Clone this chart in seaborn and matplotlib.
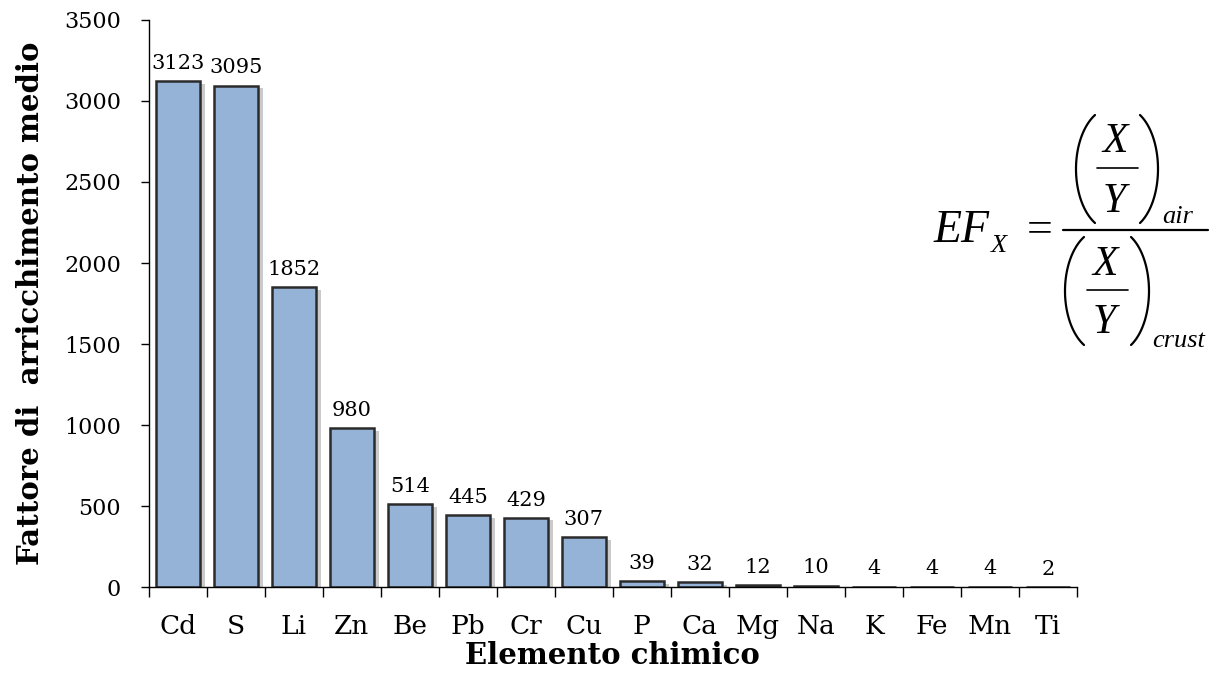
import numpy as np
import pandas as pd
import matplotlib
matplotlib.use('Agg')
import matplotlib.pyplot as plt
import matplotlib.patheffects as pe
import seaborn as sns

# Data
elementi = ['Cd', 'S', 'Li', 'Zn', 'Be', 'Pb', 'Cr', 'Cu', 'P', 'Ca', 'Mg', 'Na', 'K', 'Fe', 'Mn', 'Ti']
fattore = [3123, 3095, 1852, 980, 514, 445, 429, 307, 39, 32, 12, 10, 4, 4, 4, 2]
y_ticks = [0, 500, 1000, 1500, 2000, 2500, 3000, 3500]

df = pd.DataFrame({'elemento': elementi, 'fattore': fattore})

sns.set_theme(style='white')
plt.rcParams['font.family'] = ['DejaVu Serif']
for k in ['text.color', 'axes.labelcolor', 'xtick.color', 'ytick.color']:
    plt.rcParams[k] = 'black'

fig = plt.figure(figsize=(12.1, 6.86), dpi=100)
ax = fig.add_axes([0.123, 0.144, 0.767, 0.827])

sns.barplot(data=df, x='elemento', y='fattore', color='#95B3D7', width=0.76,
            edgecolor='#2b2b2b', linewidth=1.8, saturation=1, ax=ax)

for bar in ax.patches:
    bar.set_path_effects([pe.SimplePatchShadow(offset=(4, -2), alpha=0.28, shadow_rgbFace='#444444'),
                          pe.Normal()])

for i, v in enumerate(fattore):
    ax.text(i, v + 50, str(v), ha='center', va='bottom', fontsize=15, color='black')

ax.set_ylim(0, 3500)
ax.set_yticks(y_ticks)
ax.set_xlim(-0.5, len(elementi) - 0.5)
ax.set_xticks(np.arange(len(elementi)))
ax.set_xticklabels(elementi, fontsize=19)
ax.tick_params(axis='x', length=0, pad=19)
ax.set_xticks(np.arange(len(elementi) + 1) - 0.5, minor=True)
ax.tick_params(axis='x', which='minor', direction='out', length=7, width=1, color='black', bottom=True)
ax.tick_params(axis='y', direction='out', length=6, width=1, color='black', left=True,
               labelsize=16, pad=14)

for s in ['top', 'right']:
    ax.spines[s].set_visible(False)
for s in ['left', 'bottom']:
    ax.spines[s].set_color('black')
    ax.spines[s].set_linewidth(1)

ax.set_xlabel('Elemento chimico', fontsize=21, fontweight='bold', labelpad=2)
ax.set_ylabel('Fattore di  arricchimento medio', fontsize=21, fontweight='bold', labelpad=14)

# EF formula drawn on an overlay in pixel units
ov = fig.add_axes([0, 0, 1, 1], zorder=5)
ov.set_xlim(0, 1210)
ov.set_ylim(686, 0)
ov.axis('off')
ff = 'Liberation Serif'


def paren(x_edge, y_mid, half_h, w, side):
    th = np.radians(62)
    t = np.linspace(-th, th, 60)
    bulge = w * (np.cos(t) - np.cos(th)) / (1 - np.cos(th))
    xs = x_edge - bulge if side == 'left' else x_edge + bulge
    ys = y_mid + half_h * np.sin(t) / np.sin(th)
    ov.plot(xs, ys, color='black', lw=1.6, solid_capstyle='round')


ov.text(934, 242, 'EF', fontsize=33, family=ff, style='italic', ha='left', va='baseline')
ov.text(991, 252, 'X', fontsize=19, family=ff, style='italic', ha='left', va='baseline')
ov.text(1040, 242, '=', fontsize=33, family=ff, ha='center', va='baseline')
ov.plot([1063, 1208], [230, 230], color='black', lw=1.6)

# numerator
paren(1095, 169, 54, 19, 'left')
ov.text(1115, 152, 'X', fontsize=30, family=ff, style='italic', ha='center', va='baseline')
ov.plot([1097, 1138], [168, 168], color='black', lw=1.2)
ov.text(1114, 212, 'Y', fontsize=30, family=ff, style='italic', ha='center', va='baseline')
paren(1140, 169, 54, 18, 'right')
ov.text(1162, 223, 'air', fontsize=19, family=ff, style='italic', ha='left', va='baseline')

# denominator
paren(1084, 291, 54, 19, 'left')
ov.text(1105, 275, 'X', fontsize=30, family=ff, style='italic', ha='center', va='baseline')
ov.plot([1087, 1128], [290, 290], color='black', lw=1.2)
ov.text(1104, 333, 'Y', fontsize=30, family=ff, style='italic', ha='center', va='baseline')
paren(1131, 291, 54, 18, 'right')
ov.text(1152, 347, 'crust', fontsize=19, family=ff, style='italic', ha='left', va='baseline')

fig.savefig('out.png', dpi=100)
